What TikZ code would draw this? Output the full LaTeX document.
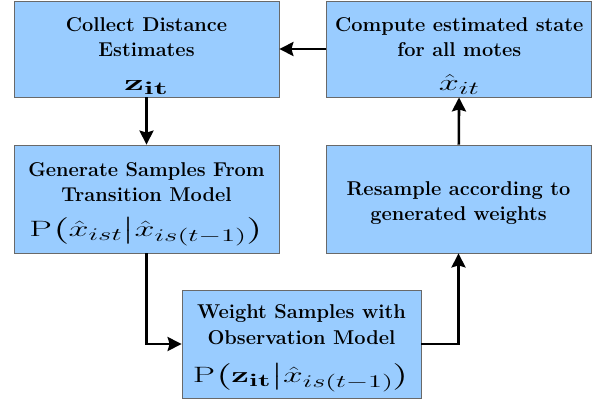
\RequirePackage{fix-cm}
\documentclass[tikz,border=0pt]{standalone}
\usepackage{amsmath, amssymb}
\usepackage{xcolor}
\usepackage{tikz}
\usetikzlibrary{arrows.meta, positioning}

\definecolor{boxblue}{RGB}{153,204,255}
\definecolor{boxline}{RGB}{105,105,105}
\DeclareMathSizes{20}{20}{16}{12}
% formulas are drawn wide, as in the original figure
\newcommand{\symbform}[3]{{\fontsize{20}{22}\selectfont\resizebox{#1}{#2}{$#3$}}}
\newcommand{\probform}[3]{{\fontsize{20}{22}\selectfont\resizebox*{#1}{#2}{$#3$}}}
\newcommand{\topstrut}[1]{\rule{0pt}{#1}}
\newcommand{\botstrut}[1]{\rule[-#1]{0pt}{#1}}

\begin{document}
\begin{tikzpicture}[x=1pt, y=1pt, node distance=47pt,
    every text node part/.style={align=center},
    stagebox/.style={draw=boxline, fill=boxblue, line width=0.8pt, rectangle,
        minimum width=265pt, minimum height=96pt, inner sep=1pt,
        font=\fontsize{20}{25}\selectfont\bfseries},
    flow/.style={line width=2.6pt, -{Stealth[length=14pt, width=14pt, inset=2pt]}}]

    \useasboundingbox (0,0) rectangle (597,-408);

    % Top row
    \node[stagebox] (collect) at (146.5,-49) {
        \topstrut{29pt}Collect Distance \\
        Estimates \\[9pt]
        \symbform{45pt}{10pt}{\mathbf{z_{it}}}\botstrut{6pt}
    };

    \node[stagebox, right=of collect] (compute) {
        \topstrut{29pt}Compute estimated state \\
        for all motes \\[9pt]
        \symbform{41pt}{16pt}{\hat{x}_{it}}\botstrut{6pt}
    };

    % Second row
    \node[stagebox, minimum height=108pt] (generate) at (146.5,-199) {
        \topstrut{30pt}Generate Samples From \\
        Transition Model \\[10pt]
        \probform{234pt}{29pt}{\mathrm{P}\bigl(\hat{x}_{ist}\big|\hat{x}_{is(t-1)}\bigr)}\botstrut{16pt}
    };

    \node[stagebox, minimum height=108pt] (resample) at (458.5,-199) {
        \topstrut{49pt}Resample according to \\
        generated weights\botstrut{32pt}
    };

    % Bottom box
    \node[stagebox, minimum width=239pt, minimum height=108pt] (weight) at (301.5,-344) {
        \topstrut{27pt}Weight Samples with \\[1pt]
        Observation Model \\[13pt]
        \probform{217pt}{29pt}{\mathrm{P}\bigl(\mathbf{z_{it}}\big|\hat{x}_{is(t-1)}\bigr)}\botstrut{15pt}
    };

    % Connectors
    \draw[flow] (compute) -- (collect);
    \draw[flow] (collect) -- (generate);
    \draw[flow] (generate.south) |- (weight.west);
    \draw[flow] (weight.east) -| (resample.south);
    \draw[flow] (resample) -- (compute);

\end{tikzpicture}
\end{document}
